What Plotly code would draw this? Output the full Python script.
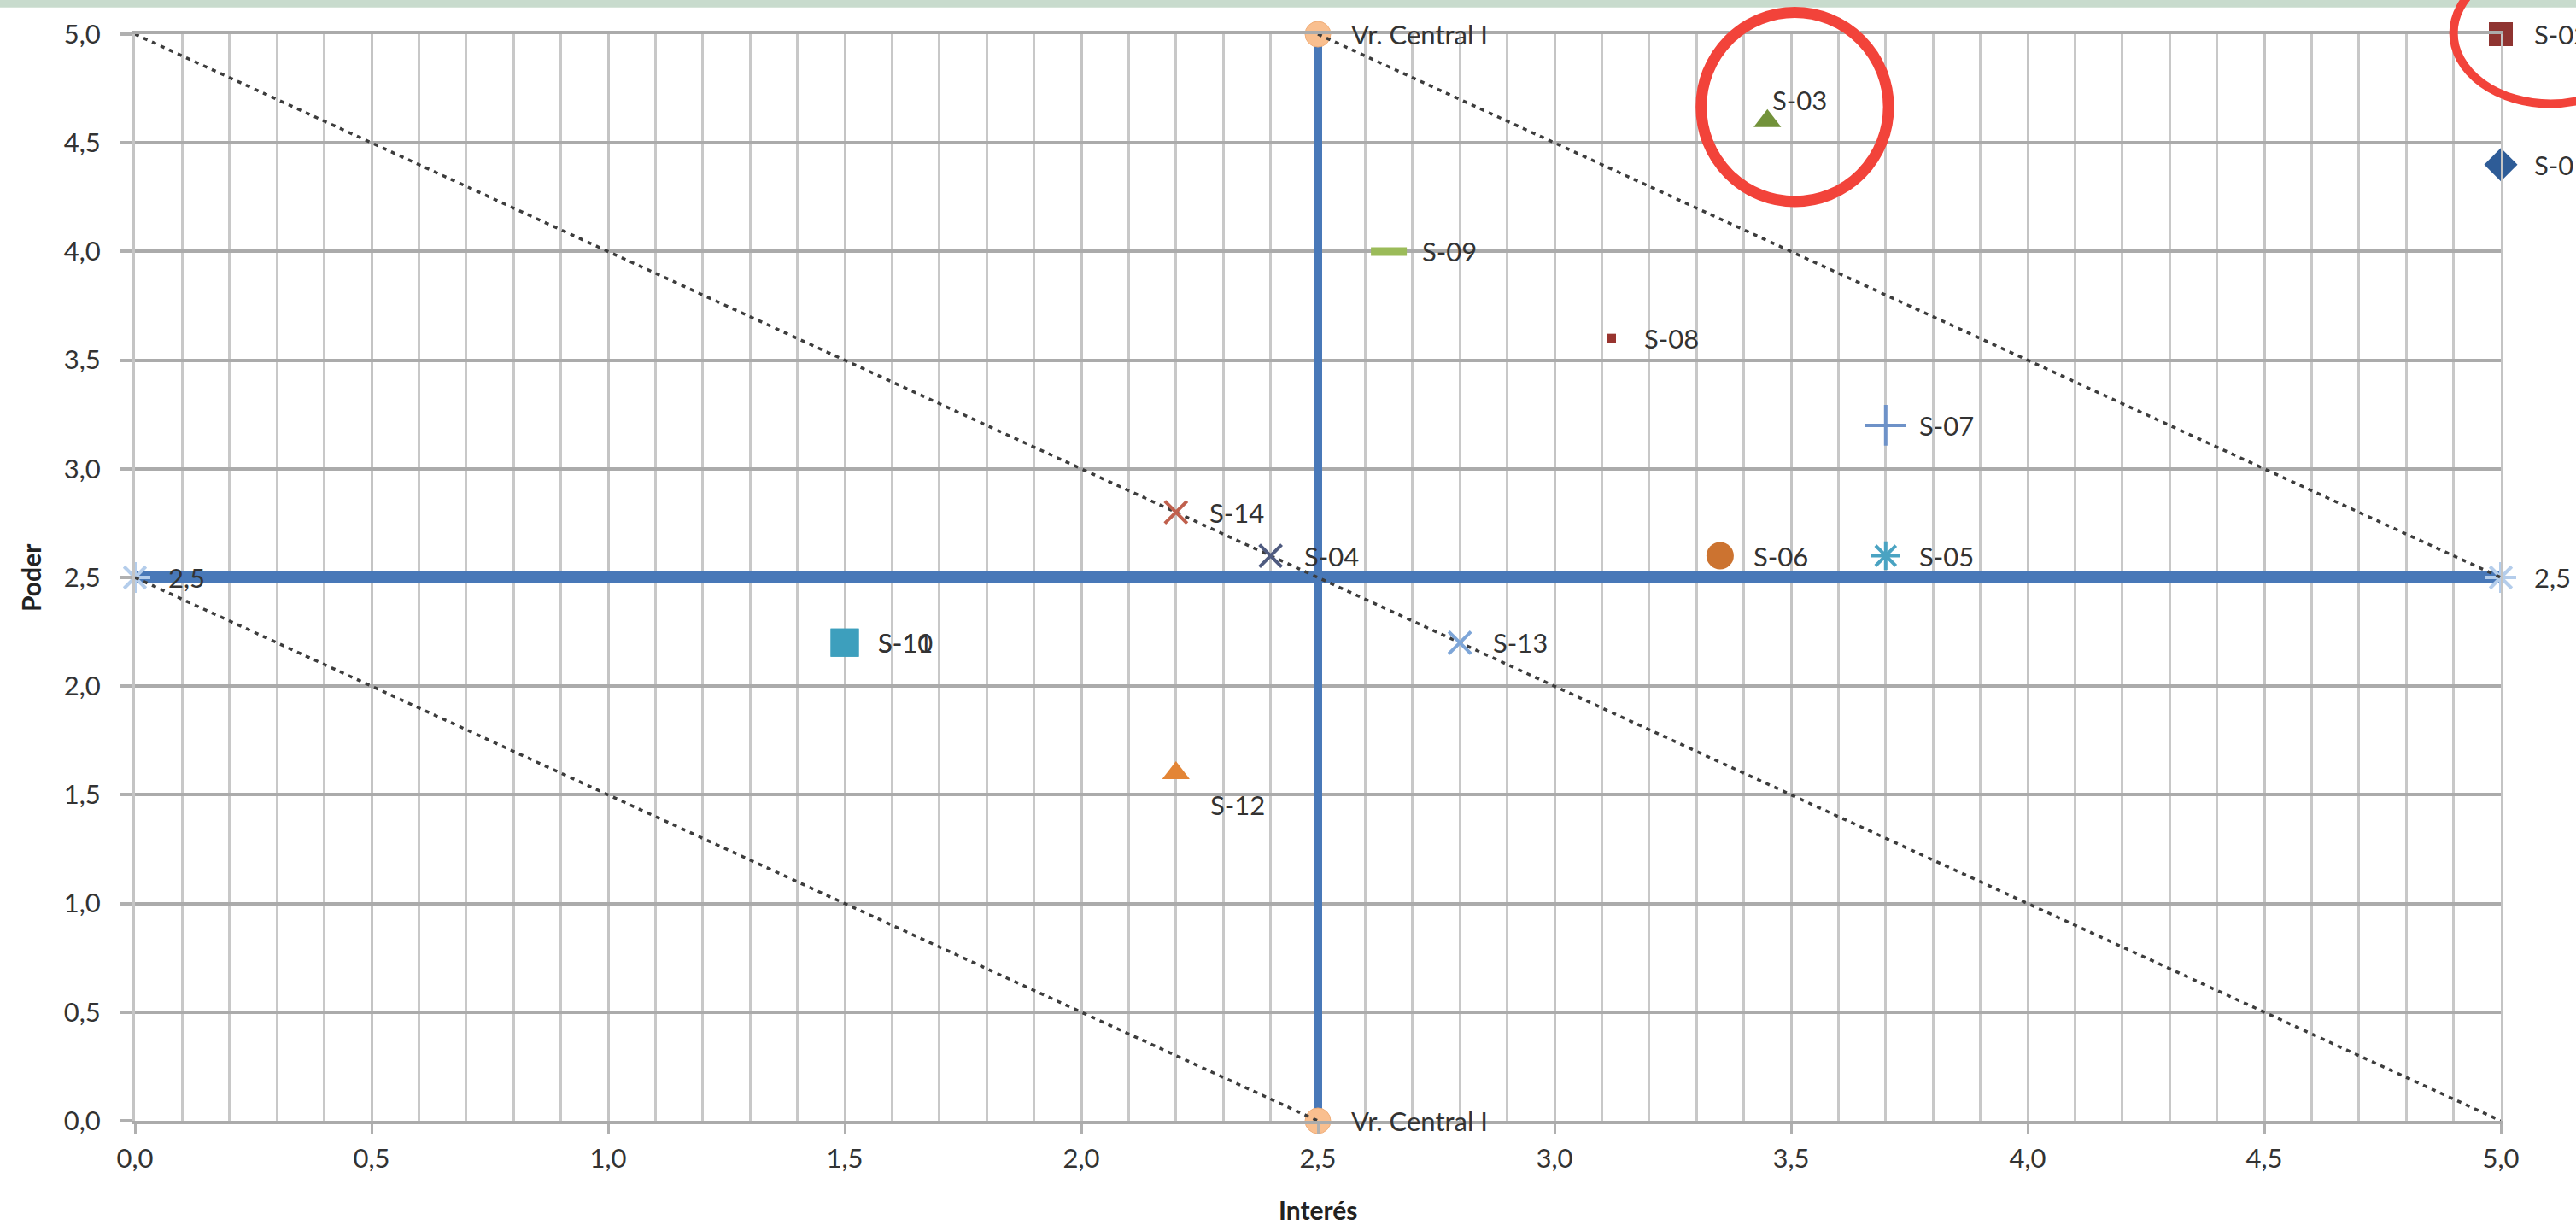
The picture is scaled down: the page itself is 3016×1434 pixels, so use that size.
import plotly.graph_objects as go

# ---------------- data ----------------
names   = ["S-01", "S-02", "S-03", "S-04", "S-05", "S-06", "S-07",
           "S-08", "S-09", "S-10", "S-11", "S-12", "S-13", "S-14"]
interes = [5.0, 5.0, 3.45, 2.4, 3.7, 3.35, 3.7, 3.12, 2.65, 1.5, 1.5, 2.2, 2.8, 2.2]
poder   = [4.4, 5.0, 4.6, 2.6, 2.6, 2.6, 3.2, 3.6, 4.0, 2.2, 2.2, 1.6, 2.2, 2.8]

central_v_x = [2.5, 2.5]
central_v_y = [0.0, 5.0]
central_v_name = "Vr. Central I"
central_h_x = [0.0, 5.0]
central_h_y = [2.5, 2.5]

diag_lines = [
    ([0.0, 2.5], [2.5, 0.0]),
    ([0.0, 5.0], [5.0, 0.0]),
    ([2.5, 5.0], [5.0, 2.5]),
]

# ---------------- styles ----------------
styles = {
    "S-01": dict(symbol="diamond", color="#2e5c97", size=30, lw=0),
    "S-02": dict(symbol="square", color="#8f3431", size=28, lw=0),
    "S-03": dict(symbol="triangle-up", color="#72923a", size=28, lw=0),
    "S-04": dict(symbol="x-thin-open", color="#4f5b80", size=26, lw=4),
    "S-05": dict(symbol="asterisk-open", color="#4aa3c2", size=28, lw=4),
    "S-06": dict(symbol="circle", color="#cc7330", size=32, lw=0),
    "S-07": dict(symbol="cross-thin-open", color="#6e92c8", size=34, lw=4),
    "S-08": dict(symbol="square", color="#98342f", size=11, lw=0),
    "S-09": dict(symbol="line-ew-open", color="#9bbb59", size=30, lw=10),
    "S-10": dict(symbol="square", color="#3d9fbd", size=33, lw=0),
    "S-11": dict(symbol="square", color="#3d9fbd", size=33, lw=0),
    "S-12": dict(symbol="triangle-up", color="#e38536", size=28, lw=0),
    "S-13": dict(symbol="x-thin-open", color="#7ea6d8", size=26, lw=4),
    "S-14": dict(symbol="x-thin-open", color="#c0604d", size=26, lw=4),
}
# label placement: (xshift px, yshift px)
label_shift = {"S-03": (4, 25), "S-12": (38, -37)}
default_shift = (37, 0)

FONT = "Lato, 'Liberation Sans', Arial, sans-serif"
LABEL_COLOR = "#333333"
BLUE = "#4878b8"

fig = go.Figure()

# central lines
fig.add_trace(go.Scatter(
    x=central_h_x, y=central_h_y, mode="lines+markers",
    line=dict(color=BLUE, width=14),
    marker=dict(symbol="asterisk-open", size=30, color="#b4cdeb",
                line=dict(color="#b4cdeb", width=4)),
    cliponaxis=False, showlegend=False, hoverinfo="skip"))
fig.add_trace(go.Scatter(
    x=central_v_x, y=central_v_y, mode="lines+markers",
    line=dict(color=BLUE, width=10),
    marker=dict(symbol="circle", size=30, color="#f9bf8f",
                line=dict(color="#f0ad78", width=1)),
    cliponaxis=False, showlegend=False, hoverinfo="skip"))

# diagonal dotted lines
for dx, dy in diag_lines:
    fig.add_trace(go.Scatter(
        x=dx, y=dy, mode="lines",
        line=dict(color="#3c3c3c", width=3.5, dash="5px,6px"),
        showlegend=False, hoverinfo="skip"))

# stakeholder points
for n, xv, yv in zip(names, interes, poder):
    s = styles[n]
    fig.add_trace(go.Scatter(
        x=[xv], y=[yv], mode="markers", name=n,
        marker=dict(symbol=s["symbol"], size=s["size"], color=s["color"],
                    line=dict(color=s["color"], width=s["lw"])),
        cliponaxis=False, showlegend=False))

annotations = []
for n, xv, yv in zip(names, interes, poder):
    xs, ys = label_shift.get(n, default_shift)
    annotations.append(dict(x=xv, y=yv, xref="x", yref="y", text=n,
                            showarrow=False, xanchor="left", yanchor="middle",
                            xshift=xs, yshift=ys,
                            font=dict(family=FONT, size=31, color=LABEL_COLOR)))
for yv in central_v_y:
    annotations.append(dict(x=central_v_x[0], y=yv, xref="x", yref="y",
                            text=central_v_name, showarrow=False,
                            xanchor="left", yanchor="middle", xshift=37,
                            font=dict(family=FONT, size=31, color=LABEL_COLOR)))
for xv, yv in zip(central_h_x, central_h_y):
    annotations.append(dict(x=xv, y=yv, xref="x", yref="y",
                            text=f"{yv:.1f}".replace(".", ","), showarrow=False,
                            xanchor="left", yanchor="middle", xshift=37,
                            font=dict(family=FONT, size=31, color=LABEL_COLOR)))
# axis titles
annotations.append(dict(x=0.5, y=0, xref="paper", yref="paper", text="<b>Interés</b>",
                        showarrow=False, xanchor="center", yanchor="middle",
                        yshift=-104, font=dict(family=FONT, size=30, color="#222222")))
annotations.append(dict(x=0, y=0.5, xref="paper", yref="paper", text="<b>Poder</b>",
                        showarrow=False, xanchor="center", yanchor="middle",
                        xshift=-122, textangle=-90,
                        font=dict(family=FONT, size=30, color="#222222")))

XR = (0.0, 5.0)
YR = (0.0, 5.0)
def px(v):
    return (v - XR[0]) / (XR[1] - XR[0])
def py(v):
    return (v - YR[0]) / (YR[1] - YR[0])

shapes = [
    # top band
    dict(type="rect", xref="paper", yref="paper", x0=-0.06, x1=1.04,
         y0=1.0245, y1=1.04, fillcolor="#c8dbcd", line=dict(width=0), layer="above"),
    # red hand-drawn circles
    dict(type="circle", xref="paper", yref="paper",
         x0=px(3.31), x1=px(3.706), y0=py(4.23), y1=py(5.10),
         line=dict(color="#f2433a", width=13), layer="above"),
    dict(type="circle", xref="paper", yref="paper",
         x0=px(4.90), x1=px(5.31), y0=py(4.68), y1=py(5.33),
         line=dict(color="#f2433a", width=10), layer="above"),
]

fig.update_layout(
    width=3016, height=1434,
    margin=dict(l=158, r=88, t=40, b=122),
    paper_bgcolor="white", plot_bgcolor="white",
    separators=",.",
    annotations=annotations, shapes=shapes,
    showlegend=False,
    font=dict(family=FONT, color=LABEL_COLOR),
    xaxis=dict(range=list(XR), dtick=0.5, tick0=0, tickformat=".1f",
               showgrid=True, gridcolor="#c4c4c4", gridwidth=3,
               minor=dict(dtick=0.1, tick0=0, showgrid=True, gridcolor="#c8c8c8", gridwidth=3),
               zeroline=False, showline=True, linecolor="#ababab", linewidth=4, mirror=True,
               ticks="outside", ticklen=12, tickwidth=3, tickcolor="#b0b0b0",
               tickfont=dict(family=FONT, size=31, color=LABEL_COLOR),
               ticklabelstandoff=2),
    yaxis=dict(range=list(YR), dtick=0.5, tick0=0, tickformat=".1f",
               showgrid=True, gridcolor="#ababab", gridwidth=4,
               zeroline=False, showline=True, linecolor="#c4c4c4", linewidth=3, mirror=True,
               ticks="outside", ticklen=15, tickwidth=4, tickcolor="#b0b0b0",
               tickfont=dict(family=FONT, size=31, color=LABEL_COLOR),
               ticklabelstandoff=16),
)

fig.write_html("out.html", config={"displayModeBar": False},
               post_script="document.body.style.margin='0';document.body.style.overflow='hidden';")
